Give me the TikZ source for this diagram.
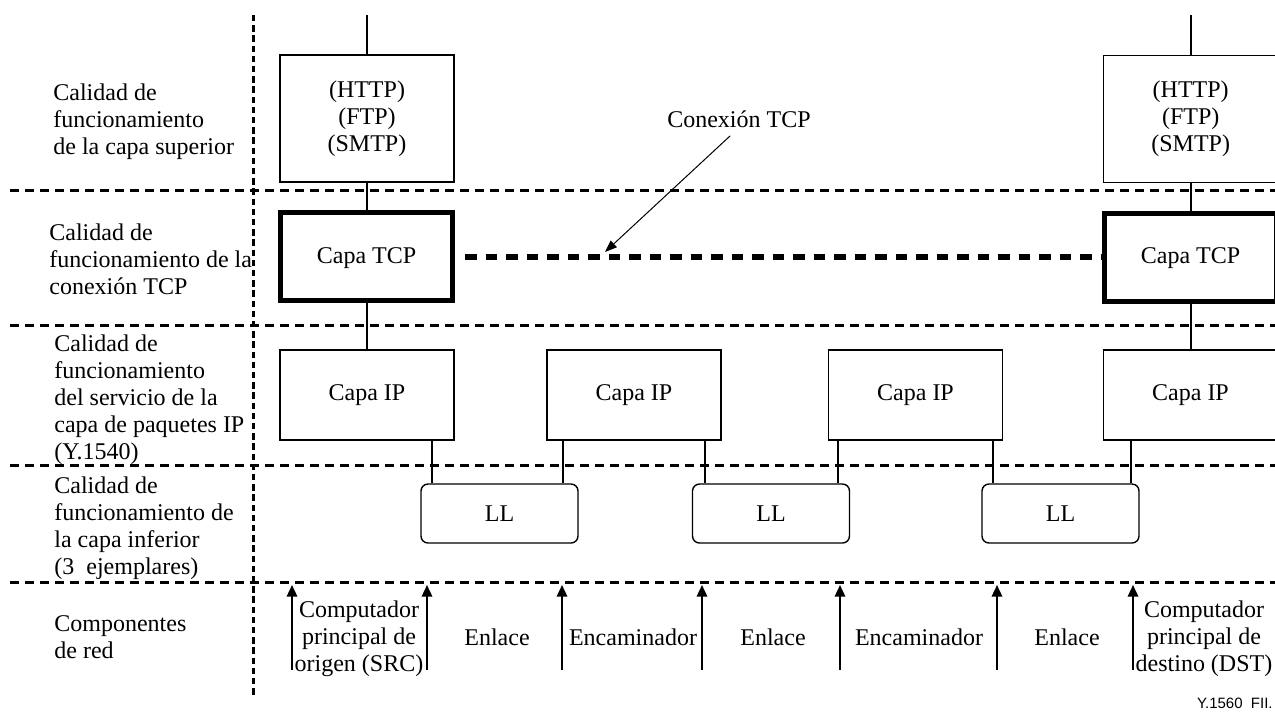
\documentclass[tikz,border=0pt]{standalone}
\usepackage{fontspec}
\setmainfont{Liberation Serif}
\newfontfamily\figsans{Liberation Sans}
\usetikzlibrary{arrows.meta}

\begin{document}
\begin{tikzpicture}[x=0.5pt,y=-0.5pt,
  every node/.style={inner sep=0pt, font=\fontsize{12}{13.5}\selectfont},
  sepline/.style={line width=1.5pt, dash pattern=on 4.5pt off 3pt},
  colline/.style={line width=1.5pt, dash pattern=on 3.2pt off 1.9pt},
  rowlabel/.style={align=left, anchor=west},
  appbox/.style={draw, line width=0.7pt, align=center, minimum width=87pt, minimum height=63.5pt},
  tcpbox/.style={draw, line width=2.5pt, minimum width=86pt, minimum height=44pt},
  ipbox/.style={draw, line width=0.7pt, minimum width=87pt, minimum height=45pt},
  llbox/.style={draw, line width=0.7pt, rounded corners=3.5pt, minimum width=78.5pt, minimum height=29.5pt},
  link/.style={line width=1pt},
  tcplink/.style={line width=2.7pt, dash pattern=on 5.75pt off 4.5pt},
  pointer/.style={line width=0.5pt, -{Triangle[width=4.5pt,length=6pt]}},
  uparrow/.style={line width=1pt, -{Triangle[width=5.2pt,length=5.8pt]}},
  complabel/.style={align=center}
]
\useasboundingbox (0,0) rectangle (1275,720);
\clip (0,0) rectangle (1275,720);

% layer separators and the label column
\foreach \yy in {190,325,465,582}
  \draw[sepline] (10,\yy) -- (1275,\yy);
\draw[colline] (253,15) -- (253,697);

% row labels
\node[rowlabel] (r1) at (53,122) {Calidad de\\funcionamiento\\de la capa superior};
\node[rowlabel] (r2) at (49,259) {Calidad de\\funcionamiento de la\\conexión TCP};
\node[rowlabel] (r3) at (54,399.5) {Calidad de\\funcionamiento\\del servicio de la\\capa de paquetes IP\\(Y.1540)};
\node[rowlabel] (r4) at (54,528.4) {Calidad de\\funcionamiento de\\la capa inferior\\(3~ ejemplares)};
\node[rowlabel] (r5) at (54,636.9) {Componentes\\de red};

% protocol stacks of the two hosts
\node[appbox] (app1) at (367,118.3) {(HTTP)\\(FTP)\\(SMTP)};
\node[appbox] (app2) at (1190.7,119) {(HTTP)\\(FTP)\\(SMTP)};
\node[tcpbox, text depth=1pt] (tcp1) at (366.5,256.5) {Capa TCP};
\node[tcpbox, text depth=1pt] (tcp2) at (1190.5,257) {Capa TCP};
\node[ipbox] (ip1) at (367,395) {Capa IP};
\node[ipbox] (ip2) at (634,395) {Capa IP};
\node[ipbox] (ip3) at (915.5,395) {Capa IP};
\node[ipbox] (ip4) at (1190.5,395) {Capa IP};

% lower layers
\node[llbox] (ll1) at (499.5,513.5) {LL};
\node[llbox] (ll2) at (771,513.5) {LL};
\node[llbox] (ll3) at (1060.5,513.5) {LL};

% vertical links inside the stacks
\coordinate (top1) at (367,15);
\coordinate (top2) at (1190.7,15);
\draw[link] (top1) -- (app1.north);
\draw[link] (top2) -- (app2.north);
\draw[link] (app1.south) -- (tcp1.north -| app1.south);
\draw[link] (app2.south) -- (tcp2.north -| app2.south);
\draw[link] (tcp1.south -| app1.south) -- (ip1.north -| app1.south);
\draw[link] (tcp2.south -| app2.south) -- (ip4.north -| app2.south);

% links from IP layers down to the lower layers
\coordinate (k1) at (432,0);
\coordinate (k2) at (563,0);
\coordinate (k3) at (705,0);
\coordinate (k4) at (838,0);
\coordinate (k5) at (993,0);
\coordinate (k6) at (1131,0);
\draw[link] (ip1.south -| k1) -- (ll1.north -| k1);
\draw[link] (ip2.south -| k2) -- (ll1.north -| k2);
\draw[link] (ip2.south -| k3) -- (ll2.north -| k3);
\draw[link] (ip3.south -| k4) -- (ll2.north -| k4);
\draw[link] (ip3.south -| k5) -- (ll3.north -| k5);
\draw[link] (ip4.south -| k6) -- (ll3.north -| k6);

% end-to-end TCP connection
\coordinate (tcpy) at (0,257);
\draw[tcplink] ([xshift=5pt]tcp1.east |- tcpy) -- (tcp2.west |- tcpy);
\node[anchor=base] (conn) at (739,127) {Conexión TCP};
\coordinate (conntip) at (605,252);
\draw[pointer, shorten <=6pt] (conn.south) -- (conntip);

% network components
\foreach \i/\xx in {1/292,2/427,3/562,4/702,5/840,6/997,7/1133}{
  \coordinate (b\i) at (\xx,670);
  \coordinate (t\i) at (\xx,585);
  \draw[uparrow] (b\i) -- (t\i);
}
\node[complabel] (src) at (359,639) {Computador\\principal de\\origen (SRC)};
\node[anchor=base] (e1) at (497,645) {Enlace};
\node[anchor=base] (c1) at (633,645) {Encaminador};
\node[anchor=base] (e2) at (773,645) {Enlace};
\node[anchor=base] (c2) at (919,645) {Encaminador};
\node[anchor=base] (e3) at (1067,645) {Enlace};
\node[complabel] (dst) at (1204,638.5) {Computador\\principal de\\destino (DST)};

% figure reference
\node[anchor=base east, font=\figsans\fontsize{7.5}{9}\selectfont] (ref) at (1273,708) {Y.1560~~FII.};
\end{tikzpicture}
\end{document}
